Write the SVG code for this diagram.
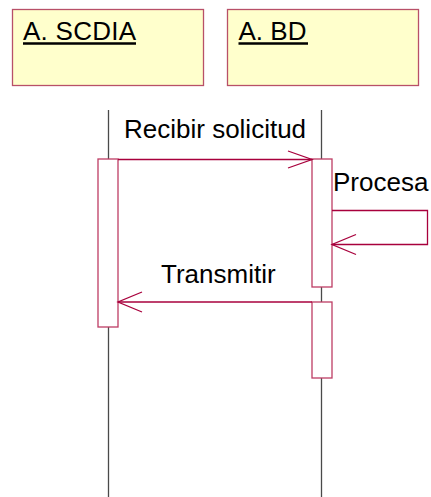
<svg xmlns="http://www.w3.org/2000/svg" width="431" height="497" viewBox="0 0 431 497">
  <style>
    .obj { fill: #FFFFCC; stroke: #B85068; stroke-width: 1.3; }
    .life { stroke: #4A4A4A; stroke-width: 1.3; fill: none; }
    .act { fill: #FFFFFF; stroke: #BE3C64; stroke-width: 1.3; }
    .msg { stroke: #A8003C; stroke-width: 1.3; fill: none; }
    .label { font-family: "Liberation Sans", Arial, sans-serif; font-size: 26px; fill: #000000; }
    .uline { stroke: #000000; stroke-width: 2.6; }
  </style>
  <rect width="431" height="497" fill="#FFFFFF"/>

  <!-- lifelines -->
  <g id="lifelines">
    <line class="life" x1="108.5" y1="110" x2="108.5" y2="497"/>
    <line class="life" x1="321.5" y1="110" x2="321.5" y2="497"/>
  </g>

  <!-- object heads -->
  <g id="obj-scdia">
    <rect class="obj" x="12.5" y="9.5" width="191" height="76"/>
    <text class="label" x="23" y="40" textLength="113">A. SCDIA</text>
    <line class="uline" x1="23" y1="43.5" x2="136" y2="43.5"/>
  </g>
  <g id="obj-bd">
    <rect class="obj" x="227.5" y="9.5" width="191" height="76"/>
    <text class="label" x="238.5" y="40">A. BD</text>
    <line class="uline" x1="238.5" y1="43.5" x2="308" y2="43.5"/>
  </g>

  <!-- activation bars -->
  <g id="act-scdia">
    <rect class="act" x="98" y="159" width="20" height="168"/>
  </g>
  <g id="act-bd-1">
    <rect class="act" x="312" y="159" width="20" height="128"/>
  </g>
  <g id="act-bd-2">
    <rect class="act" x="312" y="302" width="20" height="76"/>
  </g>

  <!-- messages -->
  <g id="connectors">
    <line class="msg" x1="118" y1="159.5" x2="312" y2="159.5"/>
    <polyline class="msg" points="288,151 312,159.5 288,168"/>

    <polyline class="msg" points="332,210.5 427.5,210.5 427.5,244.5 332,244.5"/>
    <polyline class="msg" points="356,234.5 332,244.5 356,254.5"/>

    <line class="msg" x1="312" y1="302" x2="118" y2="302"/>
    <polyline class="msg" points="142,292 118,302 142,312"/>
  </g>

  <!-- message labels -->
  <g id="labels">
    <text class="label" x="124" y="138">Recibir solicitud</text>
    <text class="label" x="333" y="191">Procesa</text>
    <text class="label" x="161" y="283">Transmitir</text>
  </g>
</svg>
